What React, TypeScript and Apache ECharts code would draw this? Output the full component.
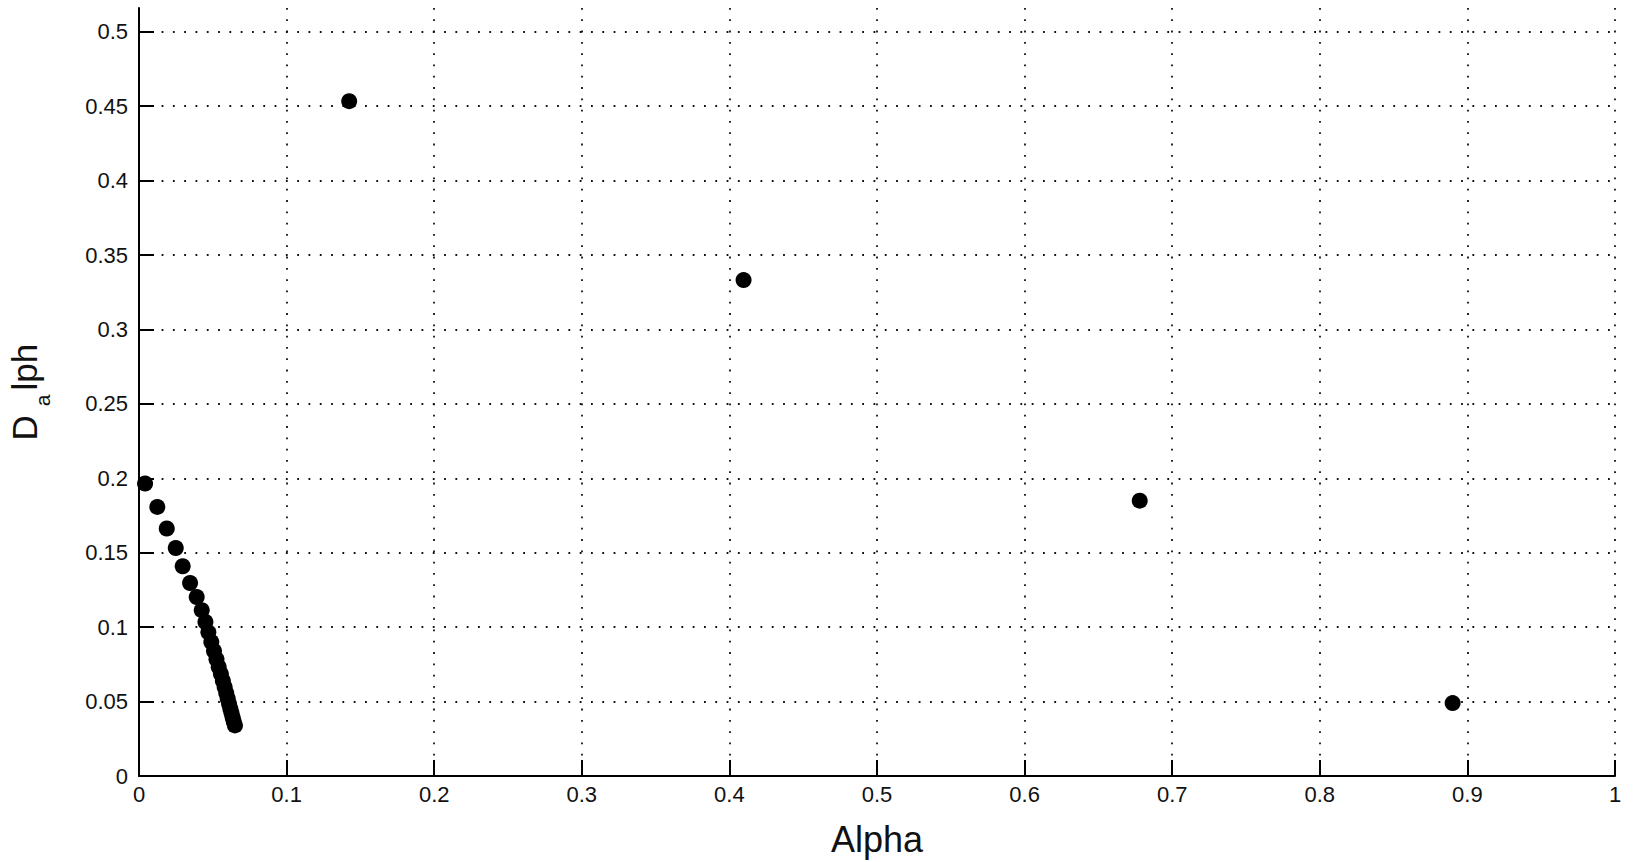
import React, { useEffect, useRef } from "react";
import * as echarts from "echarts";

const alphaValues: number[] = [
  0.0041, 0.0124, 0.0188, 0.0249, 0.0296, 0.0346, 0.0391, 0.0425,
  0.045, 0.047, 0.049, 0.0508, 0.0525, 0.054, 0.0555, 0.0568, 0.058,
  0.0591, 0.0601, 0.061, 0.0619, 0.0627, 0.0635, 0.0642, 0.065,
  0.1424, 0.4096, 0.678, 0.89,
];
const dalphValues: number[] = [
  0.1965, 0.1808, 0.1663, 0.1532, 0.1409, 0.1297, 0.1203, 0.1114,
  0.1035, 0.0965, 0.09, 0.084, 0.0785, 0.0733, 0.0685, 0.064, 0.0598,
  0.0558, 0.052, 0.0485, 0.0452, 0.0421, 0.0392, 0.0365, 0.034,
  0.4534, 0.3332, 0.185, 0.049,
];
const yTicks: number[] = [0, 0.05, 0.1, 0.15, 0.2, 0.25, 0.3, 0.35, 0.4, 0.45, 0.5];
const xTickLabels: string[] = ["0", "0.1", "0.2", "0.3", "0.4", "0.5", "0.6", "0.7", "0.8", "0.9", "1"];

export default function App() {
  const ref = useRef<HTMLDivElement>(null);
  useEffect(() => {
    if (!ref.current) return;
    const chart = echarts.init(ref.current, null, { renderer: "svg" });
    const points = alphaValues.map((a, i) => [a, dalphValues[i]]);
    const font = "'Liberation Sans', Arial, sans-serif";
    const gridLine = { show: true, lineStyle: { color: "#111", width: 1.8, type: [1.8, 9.5] as any } };
    chart.setOption({
      animation: false,
      backgroundColor: "#fff",
      grid: { left: 139, right: 19, top: 8, bottom: 86, containLabel: false, outerBoundsMode: "none" } as any,
      xAxis: {
        type: "value",
        min: 0,
        max: 1,
        interval: 0.1,
        name: "Alpha",
        nameLocation: "middle",
        nameGap: 45,
        nameTextStyle: { fontFamily: font, fontSize: 36, color: "#111" },
        axisLine: { show: true, onZero: false, lineStyle: { color: "#000", width: 2 } },
        axisTick: { show: true, inside: true, length: 16, lineStyle: { color: "#000", width: 2 } },
        axisLabel: {
          fontFamily: font,
          fontSize: 22,
          color: "#111",
          margin: 7,
          formatter: (v: number) => xTickLabels[Math.round(v * 10)] ?? String(v),
        },
        splitLine: gridLine,
      },
      yAxis: {
        type: "value",
        min: 0,
        max: 0.516,
        interval: 0.05,
        name: "{d|D}{s|a}{d|lph}{g| }",
        nameLocation: "middle",
        nameRotate: 90,
        nameGap: 86,
        nameTextStyle: {
          fontFamily: font,
          color: "#111",
          rich: {
            d: { fontFamily: font, fontSize: 35, lineHeight: 36, verticalAlign: "top", color: "#111" },
            s: { fontFamily: font, fontSize: 21, lineHeight: 21, padding: [0, 4, 0, 9], verticalAlign: "bottom", color: "#111" },
            g: { fontFamily: font, fontSize: 1, lineHeight: 46, verticalAlign: "top", color: "#fff" },
          },
        },
        axisLine: { show: true, onZero: false, lineStyle: { color: "#000", width: 2 } },
        axisTick: { show: true, inside: true, length: 15, customValues: yTicks, lineStyle: { color: "#000", width: 2 } },
        axisLabel: {
          fontFamily: font,
          fontSize: 22,
          color: "#111",
          margin: 11,
          customValues: yTicks,
          formatter: (v: number) => String(Math.round(v * 100) / 100),
        },
        splitLine: gridLine,
      },
      series: [
        {
          type: "scatter",
          data: points,
          symbol: "circle",
          symbolSize: 16,
          itemStyle: { color: "#000", opacity: 1 },
        },
      ],
    } as any);
    return () => chart.dispose();
  }, []);
  return (
    <div
      ref={ref}
      style={{ position: "fixed", left: 0, top: 0, width: 1634, height: 862, background: "#fff" }}
    />
  );
}
